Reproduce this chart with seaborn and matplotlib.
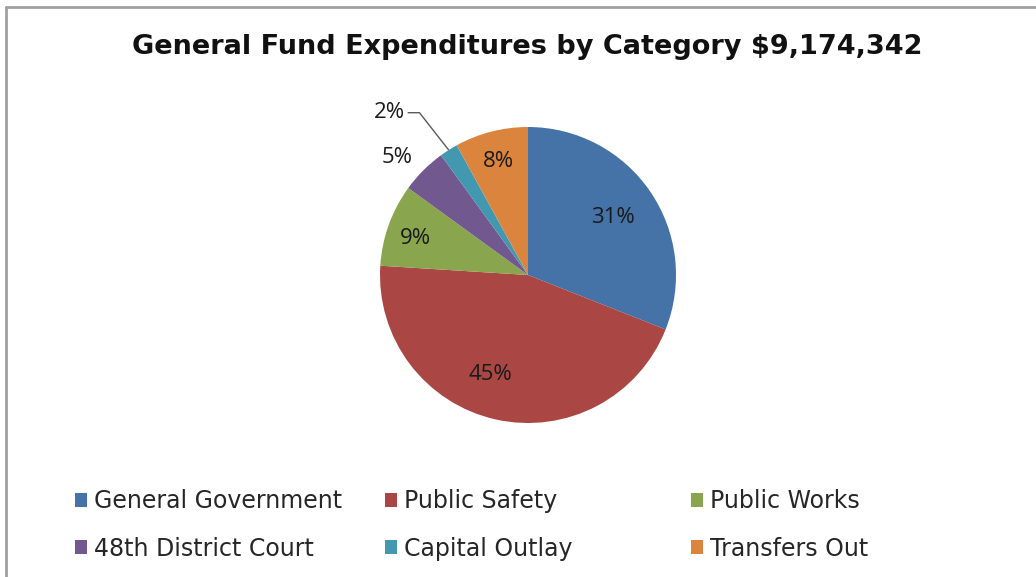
import numpy as np
import matplotlib
matplotlib.use("Agg")
import matplotlib.pyplot as plt
from matplotlib.lines import Line2D
from matplotlib.patches import Patch
import seaborn as sns

# Expenditure shares by category (percent of total)
categories = ["General Government", "Public Safety", "Public Works",
              "48th District Court", "Capital Outlay", "Transfers Out"]
shares = [31, 45, 9, 5, 2, 8]
pct_labels = ["31%", "45%", "9%", "5%", "2%", "8%"]
title = "General Fund Expenditures by Category $9,174,342"

sns.set_theme(style="white")
plt.rcParams["font.family"] = ["DejaVu Sans"]
palette = sns.color_palette(["#4572A7", "#AA4643", "#89A54E",
                             "#71588F", "#4198AF", "#DB843D"])

W, H = 1036, 577
fig = plt.figure(figsize=(W / 100, H / 100), dpi=100)
fig.patch.set_facecolor("white")

# pie axes: centre and radius in pixels, converted to figure fractions
cx, cy, R = 528, 275, 148
lim = 1.6
half = lim * R
ax = fig.add_axes([(cx - half) / W, (H - cy - half) / H, 2 * half / W, 2 * half / H])
wedges, _ = ax.pie(shares, colors=palette, startangle=90, counterclock=False,
                   radius=1.0, wedgeprops=dict(linewidth=0))
ax.set_xlim(-lim, lim)
ax.set_ylim(-lim, lim)
ax.set_aspect("equal")
ax.axis("off")

# percentage labels placed along each wedge's mid angle
label_r = [0.69, 0.72, 0.80, 1.19, 1.44, 0.79]
angle_shift = [0, -8, 2, 3, 8, 0]
for w, txt, r, da in zip(wedges, pct_labels, label_r, angle_shift):
    mid = np.deg2rad((w.theta1 + w.theta2) / 2 + da)
    x, y = r * np.cos(mid), r * np.sin(mid)
    ax.text(x, y, txt, ha="center", va="center", fontsize=16,
            color="#1a1a1a", family="Open Sans")

# leader line for the small Capital Outlay slice
w = wedges[4]
mid = np.deg2rad((w.theta1 + w.theta2) / 2)
tip = (1.0 * np.cos(mid), 1.0 * np.sin(mid))
r2 = np.deg2rad((w.theta1 + w.theta2) / 2 + 8)
lx, ly = 1.44 * np.cos(r2), 1.44 * np.sin(r2)
ax.plot([lx + 0.12, lx + 0.2, tip[0]], [ly, ly, tip[1]],
        color="#595959", linewidth=1.0, solid_capstyle="butt")

fig.text(527 / W, 1 - 47 / H, title, ha="center", va="center",
         fontsize=19.5, fontweight="bold", color="#111111")

# legend in three columns
col_x = [75, 385, 691]
col_items = [[0, 3], [1, 4], [2, 5]]
for x0, idxs in zip(col_x, col_items):
    handles = [Patch(facecolor=palette[i], edgecolor="none") for i in idxs]
    labels = [categories[i] for i in idxs]
    leg = fig.legend(handles, labels, loc="upper left",
                     bbox_to_anchor=(x0 / W, 1 - 489 / H),
                     frameon=False, fontsize=17, handlelength=0.5,
                     handleheight=0.55, handletextpad=0.3, labelspacing=1.0,
                     borderpad=0, borderaxespad=0, labelcolor="#262626")

# chart frame: top and left edges
fig.add_artist(Line2D([6 / W, 1.0], [1 - 7 / H, 1 - 7 / H], color="#a0a0a0",
                      linewidth=2, transform=fig.transFigure))
fig.add_artist(Line2D([6 / W, 6 / W], [0, 1 - 7 / H], color="#a0a0a0",
                      linewidth=2, transform=fig.transFigure))

fig.savefig("out.png", dpi=100, facecolor="white")
